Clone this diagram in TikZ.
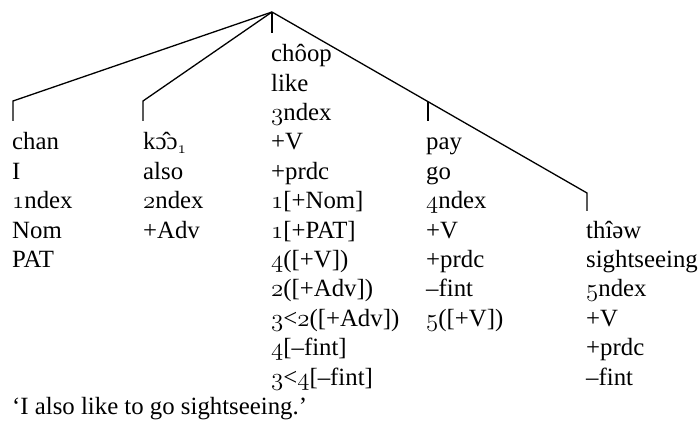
\documentclass[tikz,border=0pt]{standalone}
\usepackage{fontspec}
\setmainfont{Liberation Serif}
\newcommand{\osn}[1]{{\usefont{OML}{cmm}{m}{it}#1}}
\newcommand{\wordcol}[1]{\begin{tabular}[t]{@{}l@{}}#1\end{tabular}}
\begin{document}
\begin{tikzpicture}[x=1pt, y=-1pt,
        branch/.style={line width=1.3pt, line join=miter},
        col/.style={anchor=base west, inner sep=0pt,
            font=\fontsize{24.8}{29.4}\selectfont}]
    \useasboundingbox (0,0) rectangle (699,422);

    % branching points
    \coordinate (root) at (272,12);
    \coordinate (chantop) at (13,101);
    \coordinate (chanfoot) at (13,121);
    \coordinate (kootop) at (143,101);
    \coordinate (koofoot) at (143,121);
    \coordinate (choopfoot) at (272,33);
    \coordinate (thiewtop) at (587,193);
    \coordinate (thiewfoot) at (587,211);
    \path (root) -- (thiewtop) coordinate[pos=0.495] (paytop);
    \coordinate (payfoot) at (paytop |- chanfoot);

    % word columns
    \node[col] (chan) at (12,150) {\wordcol{chan\\I\\\osn{1}ndex\\Nom\\PAT}};
    \node[col] (koo) at (143,150) {\wordcol{k\char"0254\char"0302\char"0254\textsubscript{\osn{1}}\\also\\\osn{2}ndex\\+Adv}};
    \node[col] (choop) at (271,61.8) {\wordcol{ch\^oop\\like\\\osn{3}ndex\\+V\\+prdc\\\osn{1}[+Nom]\\\osn{1}[+PAT]\\\osn{4}([+V])\\\osn{2}([+Adv])\\\osn{3}<\osn{2}([+Adv])\\\osn{4}[--fint]\\\osn{3}<\osn{4}[--fint]}};
    \node[col] (pay) at (426,150) {\wordcol{pay\\go\\\osn{4}ndex\\+V\\+prdc\\--fint\\\osn{5}([+V])}};
    \node[col] (thiew) at (586,238.2) {\wordcol{th\^{\i}\char"0259w\\sightseeing\\\osn{5}ndex\\+V\\+prdc\\--fint}};
    \node[col] (gloss) at (12,414) {`I also like to go sightseeing.'};

    % tree
    \draw[branch] (root) -- (chantop) -- (chanfoot);
    \draw[branch] (root) -- (kootop) -- (koofoot);
    \draw[branch] (root) -- (choopfoot);
    \draw[branch] (root) -- (thiewtop) -- (thiewfoot);
    \draw[branch] (paytop) -- (payfoot);
\end{tikzpicture}
\end{document}
